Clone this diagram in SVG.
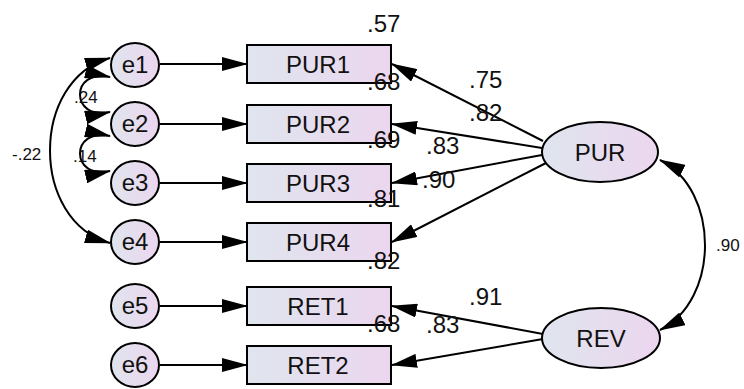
<svg xmlns="http://www.w3.org/2000/svg" width="744" height="389" viewBox="0 0 744 389">
  <defs>
    <linearGradient id="fillG" x1="0" y1="0" x2="1" y2="0">
      <stop offset="0" stop-color="#dfe5ee"/>
      <stop offset="1" stop-color="#ecd6ef"/>
    </linearGradient>
    <marker id="ah" markerUnits="userSpaceOnUse" markerWidth="26" markerHeight="14" refX="25" refY="7" orient="auto-start-reverse" viewBox="0 0 26 14">
      <path d="M0,0 L26,7 L0,14 z" fill="#000"/>
    </marker>
  </defs>
  <style>
    .node { fill: url(#fillG); stroke: #000; stroke-width: 2; }
    .lbl { font-family: "Liberation Sans", Arial, sans-serif; font-size: 24px; fill: #111; text-anchor: middle; }
    .num { font-family: "Liberation Sans", Arial, sans-serif; font-size: 24px; fill: #111; }
    .sm { font-family: "Liberation Sans", Arial, sans-serif; font-size: 17px; fill: #111; }
    .con { fill: none; stroke: #000; stroke-width: 2; }
  </style>
  <rect width="744" height="389" fill="#fff"/>

  <g id="connectors">
    <path class="con" marker-end="url(#ah)" d="M160,64 L247,64"/>
    <path class="con" marker-end="url(#ah)" d="M160,124 L247,124"/>
    <path class="con" marker-end="url(#ah)" d="M160,183 L247,183"/>
    <path class="con" marker-end="url(#ah)" d="M160,242 L247,242"/>
    <path class="con" marker-end="url(#ah)" d="M160,306 L247,306"/>
    <path class="con" marker-end="url(#ah)" d="M160,365 L247,365"/>
    <path class="con" marker-end="url(#ah)" d="M543,141 L392,64"/>
    <path class="con" marker-end="url(#ah)" d="M542,148 L392,124"/>
    <path class="con" marker-end="url(#ah)" d="M542,155 L392,183"/>
    <path class="con" marker-end="url(#ah)" d="M546,163 L392,242"/>
    <path class="con" marker-end="url(#ah)" d="M543,334 L392,306"/>
    <path class="con" marker-end="url(#ah)" d="M543,339 L392,365"/>
    <path class="con" marker-start="url(#ah)" marker-end="url(#ah)" d="M110,58 C30,80 30,221 110,243"/>
    <path class="con" marker-start="url(#ah)" marker-end="url(#ah)" d="M110,77 C70,68 70,121 110,112"/>
    <path class="con" marker-start="url(#ah)" marker-end="url(#ah)" d="M110,136 C70,127 70,180 110,171"/>
    <path class="con" marker-start="url(#ah)" marker-end="url(#ah)" d="M660,160 C720,190 720,300 660,330"/>
  </g>

  <g id="e1"><ellipse class="node" cx="135" cy="65" rx="24" ry="22"/><text class="lbl" x="135" y="73">e1</text></g>
  <g id="e2"><ellipse class="node" cx="135" cy="124" rx="24" ry="22"/><text class="lbl" x="135" y="132">e2</text></g>
  <g id="e3"><ellipse class="node" cx="135" cy="183" rx="24" ry="22"/><text class="lbl" x="135" y="191">e3</text></g>
  <g id="e4"><ellipse class="node" cx="135" cy="242" rx="24" ry="22"/><text class="lbl" x="135" y="250">e4</text></g>
  <g id="e5"><ellipse class="node" cx="135" cy="306" rx="24" ry="22"/><text class="lbl" x="135" y="314">e5</text></g>
  <g id="e6"><ellipse class="node" cx="135" cy="365" rx="24" ry="22"/><text class="lbl" x="135" y="373">e6</text></g>

  <g id="PUR1"><rect class="node" x="247" y="45" width="144" height="38"/><text class="lbl" x="318" y="73">PUR1</text></g>
  <g id="PUR2"><rect class="node" x="247" y="105" width="144" height="38"/><text class="lbl" x="318" y="133">PUR2</text></g>
  <g id="PUR3"><rect class="node" x="247" y="164" width="144" height="38"/><text class="lbl" x="318" y="192">PUR3</text></g>
  <g id="PUR4"><rect class="node" x="247" y="223" width="144" height="38"/><text class="lbl" x="318" y="251">PUR4</text></g>
  <g id="RET1"><rect class="node" x="247" y="287" width="144" height="38"/><text class="lbl" x="318" y="315">RET1</text></g>
  <g id="RET2"><rect class="node" x="247" y="346" width="144" height="38"/><text class="lbl" x="318" y="374">RET2</text></g>

  <g id="PUR"><ellipse class="node" cx="600" cy="152" rx="58" ry="30"/><text class="lbl" x="600" y="161">PUR</text></g>
  <g id="REV"><ellipse class="node" cx="601" cy="338" rx="59" ry="30"/><text class="lbl" x="601" y="347">REV</text></g>

  <g id="labels">
    <text class="num" x="367" y="32">.57</text>
    <text class="num" x="367" y="90">.68</text>
    <text class="num" x="367" y="148">.69</text>
    <text class="num" x="367" y="207">.81</text>
    <text class="num" x="367" y="269">.82</text>
    <text class="num" x="367" y="332">.68</text>
    <text class="num" x="469" y="88">.75</text>
    <text class="num" x="469" y="121">.82</text>
    <text class="num" x="426" y="154">.83</text>
    <text class="num" x="422" y="188">.90</text>
    <text class="num" x="469" y="305">.91</text>
    <text class="num" x="426" y="333">.83</text>
    <text class="sm" x="716" y="251">.90</text>
    <text class="sm" x="12" y="160">-.22</text>
    <text class="sm" x="73" y="162">.14</text>
    <text class="sm" x="74" y="103">.24</text>
  </g>
</svg>
